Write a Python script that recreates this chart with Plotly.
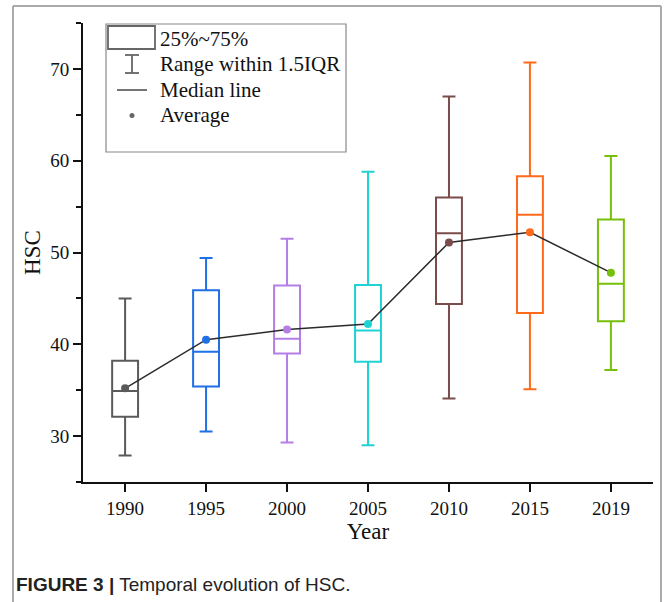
import plotly.graph_objects as go

years = ["1990", "1995", "2000", "2005", "2010", "2015", "2019"]
lower = [27.9, 30.5, 29.3, 29.0, 34.1, 35.1, 37.2]
q1 = [32.1, 35.4, 39.0, 38.1, 44.4, 43.4, 42.5]
median = [34.9, 39.2, 40.6, 41.5, 52.1, 54.1, 46.6]
q3 = [38.2, 45.9, 46.4, 46.45, 56.0, 58.3, 53.6]
upper = [45.0, 49.4, 51.5, 58.8, 67.0, 70.7, 60.5]
mean = [35.2, 40.5, 41.6, 42.2, 51.1, 52.2, 47.8]
colors = ["#5a5a5a", "#1f6fe5", "#b57de6", "#1fd3d3", "#7a4c4c", "#ff6a1a", "#76bf0a"]

legend_labels = ["25%~75%", "Range within 1.5IQR", "Median line", "Average"]

W, H = 665, 602
L, R, T, B = 83, 12, 23, 120
pw, ph = W - L - R, H - T - B


def px(x):
    return (x - L) / pw


def py(y):
    return (H - B - y) / ph


fig = go.Figure()
for i, yr in enumerate(years):
    fig.add_trace(go.Box(
        x=[yr], q1=[q1[i]], median=[median[i]], q3=[q3[i]],
        lowerfence=[lower[i]], upperfence=[upper[i]],
        line=dict(color=colors[i], width=2),
        fillcolor="rgba(0,0,0,0)", width=0.32, whiskerwidth=0.5,
        boxpoints=False, showlegend=False, hoverinfo="skip",
    ))

fig.add_trace(go.Scatter(
    x=years, y=mean, mode="lines+markers",
    line=dict(color="#2a2a2a", width=1.5),
    marker=dict(color=colors, size=8),
    showlegend=False,
))

serif = "Liberation Serif, Times New Roman, serif"
fig.update_layout(
    width=W, height=H,
    margin=dict(l=L, r=R, t=T, b=B),
    plot_bgcolor="white", paper_bgcolor="white",
    font=dict(family=serif, color="#111", size=19),
    boxmode="overlay",
    xaxis=dict(
        type="category", range=[-0.52, 6.52],
        showline=True, linecolor="#111", linewidth=1.8,
        ticks="outside", ticklen=8, tickwidth=1.5, tickcolor="#111",
        showgrid=False, zeroline=False,
        tickfont=dict(family=serif, size=19),
        title=dict(text="Year", font=dict(family=serif, size=23), standoff=4),
    ),
    yaxis=dict(
        range=[25, 75], tickvals=[30, 40, 50, 60, 70],
        showline=True, linecolor="#111", linewidth=1.8,
        ticks="outside", ticklen=8, tickwidth=1.5, tickcolor="#111",
        minor=dict(tickvals=[25, 35, 45, 55, 65, 75], ticks="outside", ticklen=5, tickwidth=1.5, tickcolor="#111"),
        showgrid=False, zeroline=False,
        tickfont=dict(family=serif, size=19),
        title=dict(text="HSC", font=dict(family=serif, size=23), standoff=3),
    ),
)

shapes = []
gray = "#aaaaaa"
# outer frame
shapes.append(dict(type="line", xref="paper", yref="paper", x0=px(13), x1=px(13), y0=py(6), y1=py(602), line=dict(color=gray, width=2)))
shapes.append(dict(type="line", xref="paper", yref="paper", x0=px(13), x1=px(661), y0=py(6), y1=py(6), line=dict(color=gray, width=2)))
shapes.append(dict(type="line", xref="paper", yref="paper", x0=px(661), x1=px(661), y0=py(6), y1=py(602), line=dict(color=gray, width=2)))
# legend box
lg = "#666666"
shapes.append(dict(type="rect", xref="paper", yref="paper", x0=px(106), x1=px(346), y0=py(24), y1=py(152), line=dict(color="#888888", width=1.2), fillcolor="rgba(255,255,255,0)"))
shapes.append(dict(type="rect", xref="paper", yref="paper", x0=px(108), x1=px(155), y0=py(26), y1=py(49), line=dict(color=lg, width=1.8)))
cx = 132
shapes.append(dict(type="line", xref="paper", yref="paper", x0=px(cx), x1=px(cx), y0=py(55), y1=py(73), line=dict(color=lg, width=1.8)))
shapes.append(dict(type="line", xref="paper", yref="paper", x0=px(cx - 7), x1=px(cx + 7), y0=py(55), y1=py(55), line=dict(color=lg, width=1.8)))
shapes.append(dict(type="line", xref="paper", yref="paper", x0=px(cx - 7), x1=px(cx + 7), y0=py(73), y1=py(73), line=dict(color=lg, width=1.8)))
shapes.append(dict(type="line", xref="paper", yref="paper", x0=px(117), x1=px(147), y0=py(90), y1=py(90), line=dict(color=lg, width=1.8)))
shapes.append(dict(type="circle", xref="paper", yref="paper", x0=px(cx - 2.5), x1=px(cx + 2.5), y0=py(113), y1=py(118), line=dict(color=lg, width=0), fillcolor=lg))
fig.update_layout(shapes=shapes)

rows = [39, 64, 90, 115]
annotations = []
for lab, ry in zip(legend_labels, rows):
    annotations.append(dict(text=lab, xref="paper", yref="paper", x=px(158), y=py(ry),
                            xanchor="left", yanchor="middle", showarrow=False,
                            font=dict(family=serif, size=21, color="#111")))
annotations.append(dict(text="<b>FIGURE 3 |</b> Temporal evolution of HSC.", xref="paper", yref="paper",
                        x=px(14), y=py(584), xanchor="left", yanchor="middle", showarrow=False,
                        font=dict(family="Liberation Sans, Arial, sans-serif", size=19, color="#222")))
fig.update_layout(annotations=annotations)

fig.write_html("out.html", config={"displayModeBar": False},
               post_script="document.body.style.margin='0';document.body.style.overflow='hidden';")
